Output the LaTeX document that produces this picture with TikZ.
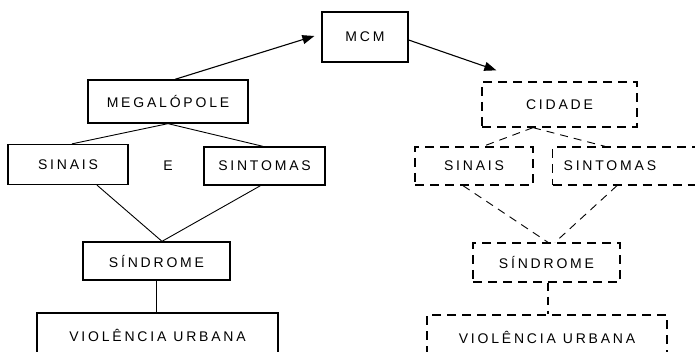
\documentclass[tikz,border=0pt]{standalone}
\usepackage{fontspec}
\newfontfamily\lbl[LetterSpace=20]{Liberation Sans}
\usetikzlibrary{arrows.meta}
\tikzset{
  lbltext/.style={font=\lbl\fontsize{14}{16}\selectfont, text=black},
  box/.style={draw=black, line width=1.3pt, inner sep=0pt, lbltext},
  dbox/.style={box, dash pattern=on 9pt off 6pt},
  link/.style={draw=black, line width=0.9pt},
  dlink/.style={link, dash pattern=on 8pt off 6pt},
  arr/.style={link, line width=1.1pt, -{Triangle[length=12pt,width=9pt]}}
}
\begin{document}
\begin{tikzpicture}[x=1pt,y=-1pt]
\useasboundingbox (0,0) rectangle (695,352);
\clip (0,0) rectangle (695,352);
% left (solid)
\node[box, minimum width=86pt, minimum height=50pt] (mcm) at (365,37) {MCM};
\node[box, minimum width=160pt, minimum height=43pt] (meg) at (168,101.5) {MEGALÓPOLE};
\node[box, minimum width=120pt, minimum height=40pt] (sin1) at (68,164.5) {SINAIS};
\node[box, minimum width=121pt, minimum height=38pt] (sint1) at (264.5,166) {SINTOMAS};
\node[lbltext] (e) at (168,166) {E};
\node[box, minimum width=241pt, minimum height=44pt] (viol1) at (157.5,335) {VIOLÊNCIA\hspace{7pt}URBANA};
\node[box, minimum width=147pt, minimum height=38pt] (sind1) at (156.5,261) {SÍNDROME};
% right (dashed)
\node[dbox, minimum width=155pt, minimum height=45pt] (cid) at (559.5,104.5) {CIDADE};
\node[dbox, minimum width=118pt, minimum height=38pt] (sin2) at (474,166) {SINAIS};
\node[dbox, anchor=west, minimum height=38pt, text width=138pt, inner xsep=11pt, align=left] (sint2) at (552,166) {SINTOMAS};
\node[dbox, minimum width=147pt, minimum height=39pt] (sind2) at (546.5,262.5) {SÍNDROME};
\node[dbox, minimum width=240pt, minimum height=44pt] (viol2) at (547,337) {VIOLÊNCIA\hspace{7pt}URBANA};
% connectors
\draw[arr] ([xshift=7pt]meg.north) -- ([xshift=-7pt,yshift=1pt]mcm.west);
\draw[arr] ([yshift=-3pt]mcm.east) -- ([xshift=15pt,yshift=11pt]cid.north west);
\draw[link] (meg.south) -- ([xshift=4pt]sin1.north);
\draw[link] (meg.south) -- ([xshift=-1.5pt]sint1.north);
\draw[link] ([xshift=29pt]sin1.south) -- ([xshift=5.5pt]sind1.north);
\draw[link] ([xshift=-4pt]sint1.south) -- ([xshift=5.5pt]sind1.north);
\draw[link, line width=1.2pt] (sind1.south) -- (sind1.south |- viol1.north);
\draw[dlink] ([xshift=-26.5pt]cid.south) -- ([xshift=9pt]sin2.north);
\draw[dlink] ([xshift=-26.5pt]cid.south) -- ([xshift=53pt]sint2.north west);
\draw[dlink] ([xshift=-11pt]sin2.south) -- ([xshift=1.5pt]sind2.north);
\draw[dlink] ([xshift=65pt]sint2.south west) -- ([xshift=8.5pt]sind2.north);
\draw[dlink, line width=1.2pt] ([xshift=1.5pt]sind2.south) -- ([xshift=1.5pt]sind2.south |- viol2.north);
\end{tikzpicture}
\end{document}
